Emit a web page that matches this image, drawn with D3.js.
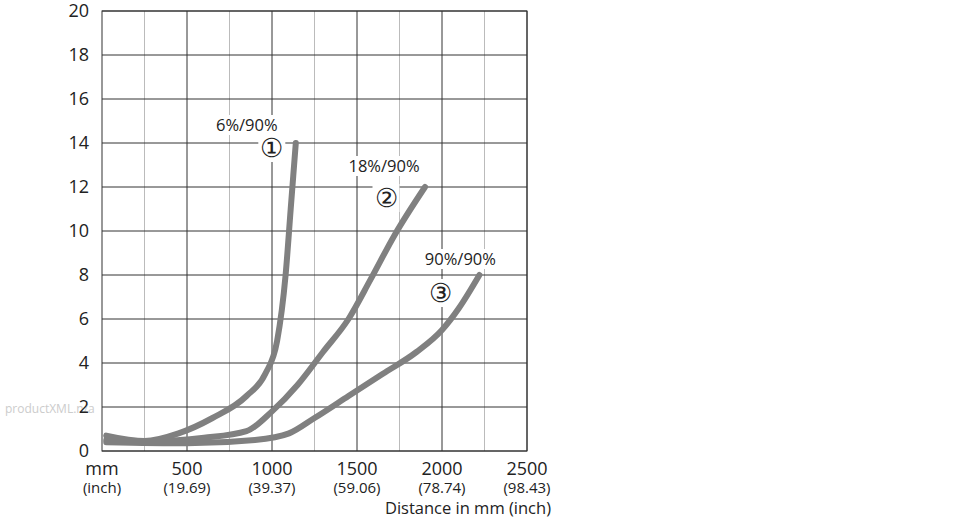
<!DOCTYPE html><html><head><meta charset="utf-8"><script src="https://cdn.jsdelivr.net/npm/d3@7"></script>
<style>body{margin:0;background:#fff}text{font-family:"Open Sans",sans-serif;fill:#222}</style></head><body><svg id="c" width="970" height="520"></svg>
<script>
const xTicks=[500,1000,1500,2000,2500];
const xInch=["(19.69)","(39.37)","(59.06)","(78.74)","(98.43)"];
const yTicks=[0,2,4,6,8,10,12,14,16,18,20];
const s1x=[25,250,450,650,850,960,1030,1080,1110,1140];
const s1y=[0.7,0.45,0.8,1.5,2.5,3.5,5,8,11,14];
const s2x=[25,300,600,850,1000,1150,1300,1450,1580,1720,1900];
const s2y=[0.5,0.45,0.6,0.9,1.8,3,4.5,6,7.8,9.8,12];
const s3x=[25,500,900,1100,1250,1450,1650,1850,2000,2100,2220];
const s3y=[0.4,0.35,0.5,0.8,1.5,2.5,3.5,4.5,5.5,6.5,8];
const labels=[{t:"6%/90%",n:"①",x:1140,y:14},{t:"18%/90%",n:"②",x:1900,y:12},{t:"90%/90%",n:"③",x:2220,y:8}];
const svg=d3.select("#c");
const x=d3.scaleLinear().domain([0,2500]).range([102,527]);
const y=d3.scaleLinear().domain([0,20]).range([451,11]);
const g=svg.append("g");
d3.range(250,2500,500).forEach(v=>g.append("line").attr("x1",x(v)).attr("x2",x(v)).attr("y1",y(0)).attr("y2",y(20)).attr("stroke","#bbb").attr("stroke-width",1));
xTicks.forEach(v=>g.append("line").attr("x1",x(v)).attr("x2",x(v)).attr("y1",y(0)).attr("y2",y(20)).attr("stroke","#333").attr("stroke-width",1));
yTicks.forEach(v=>g.append("line").attr("x1",x(0)).attr("x2",x(2500)).attr("y1",y(v)).attr("y2",y(v)).attr("stroke","#333").attr("stroke-width",1));
g.append("rect").attr("x",x(0)).attr("y",y(20)).attr("width",x(2500)-x(0)).attr("height",y(0)-y(20)).attr("fill","none").attr("stroke","#333");
svg.append("text").attr("x",5).attr("y",413).attr("font-size",12).style("fill","#ccc").text("productXML.n/a");
yTicks.forEach(v=>svg.append("text").attr("x",89).attr("y",y(v)+6).attr("text-anchor","end").attr("font-size",18).text(v));
svg.append("text").attr("x",102).attr("y",475).attr("text-anchor","middle").attr("font-size",18).text("mm");
svg.append("text").attr("x",102).attr("y",493).attr("text-anchor","middle").attr("font-size",15).text("(inch)");
xTicks.forEach((v,i)=>{svg.append("text").attr("x",x(v)).attr("y",475).attr("text-anchor","middle").attr("font-size",18).text(v);
svg.append("text").attr("x",x(v)).attr("y",493).attr("text-anchor","middle").attr("font-size",15).text(xInch[i]);});
svg.append("text").attr("x",551).attr("y",514).attr("text-anchor","end").attr("font-size",16.5).text("Distance in mm (inch)");
const line=d3.line().x(d=>x(d[0])).y(d=>y(d[1])).curve(d3.curveMonotoneX);
[[s1x,s1y],[s2x,s2y],[s3x,s3y]].forEach(([a,b])=>svg.append("path").attr("d",line(a.map((v,i)=>[v,b[i]]))).attr("fill","none").attr("stroke","#808080").attr("stroke-width",6).attr("stroke-linecap","round"));
const lp=[[-49,-12,-24,14],[-41,-15,-39,20],[-19,-10,-39,27]];
labels.forEach((l,i)=>{const px=x(l.x),py=y(l.y);
const t=svg.append("text").attr("x",px+lp[i][0]).attr("y",py+lp[i][1]).attr("text-anchor","middle").attr("font-size",16.5).text(l.t);
const b=t.node().getBBox();svg.insert("rect","text").attr("x",b.x-2).attr("y",b.y+2).attr("width",b.width+4).attr("height",b.height-3).attr("fill","#fff");
const n=svg.append("text").attr("x",px+lp[i][2]).attr("y",py+lp[i][3]).attr("text-anchor","middle").attr("font-size",26).text(l.n);
const c=n.node().getBBox();svg.insert("rect","text").attr("x",c.x-2).attr("y",c.y+5).attr("width",c.width+4).attr("height",c.height-8).attr("fill","#fff");});
</script></body></html>
